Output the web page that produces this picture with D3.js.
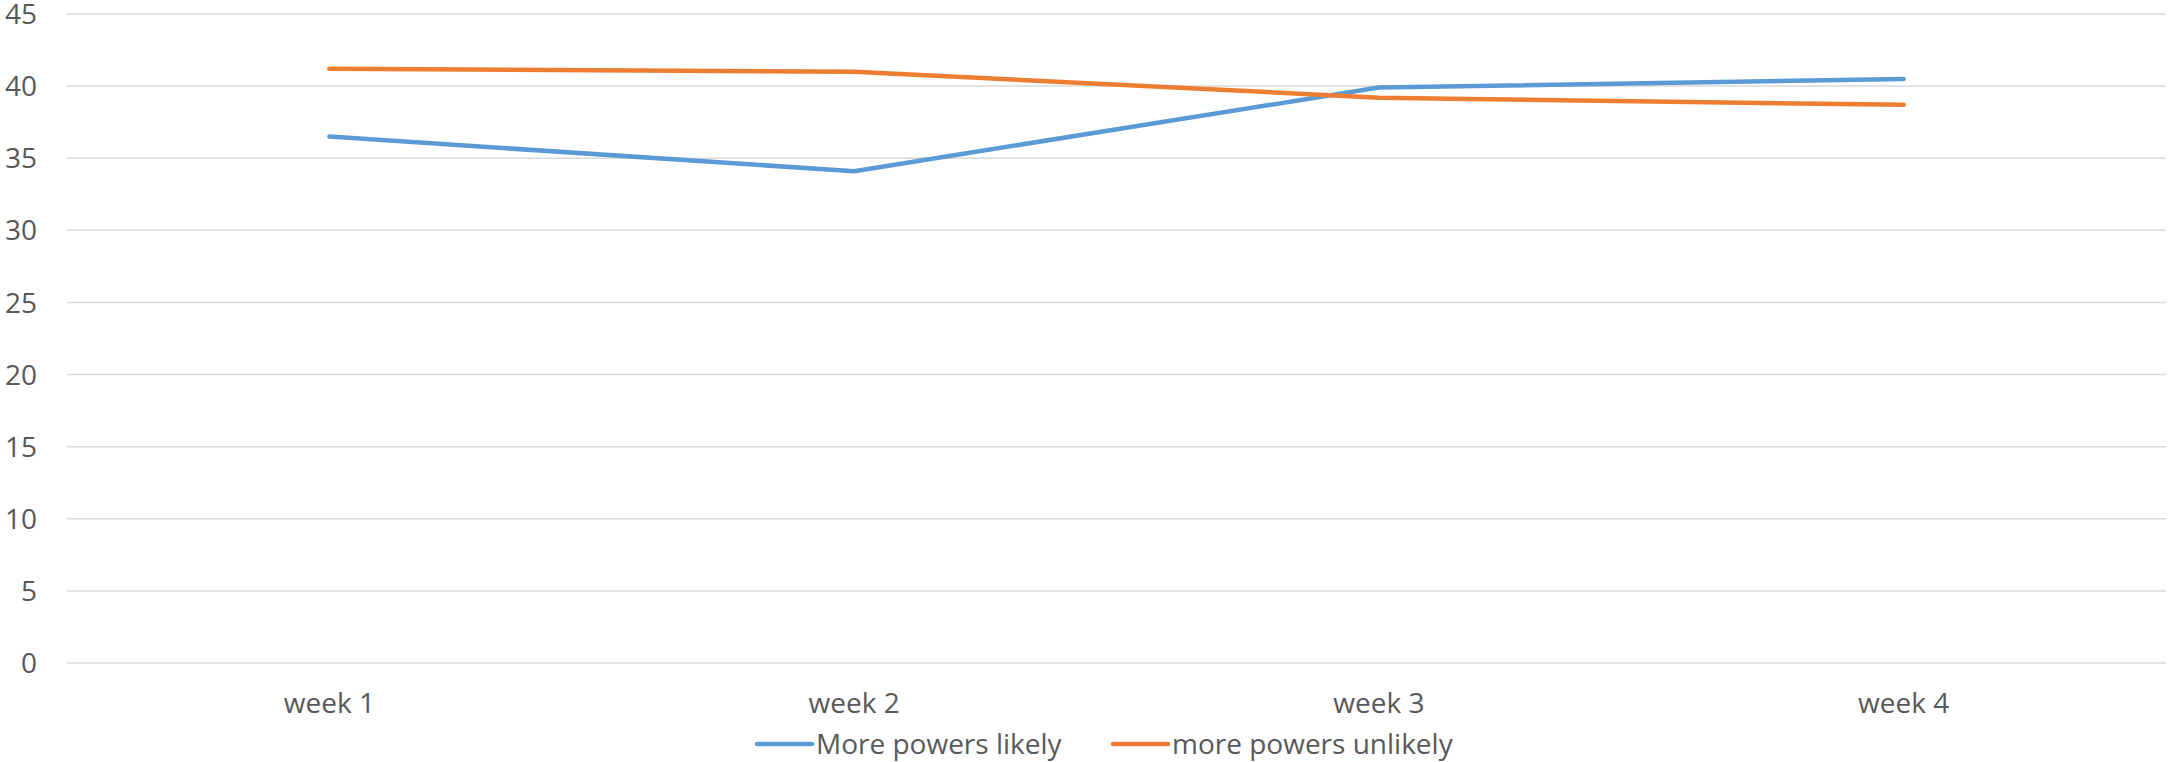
<!DOCTYPE html>
<html>
<head>
<meta charset="utf-8">
<script src="https://cdn.jsdelivr.net/npm/d3@7"></script>
<style>
  body { margin: 0; background: #fff; }
  text { font-family: "Open Sans", sans-serif; fill: #595959; }
</style>
</head>
<body>
<script>
// Chart data
const categories = ["week 1", "week 2", "week 3", "week 4"];
const likely = [36.5, 34.1, 39.9, 40.5];
const unlikely = [41.2, 41.0, 39.2, 38.7];
const yTicks = [0, 5, 10, 15, 20, 25, 30, 35, 40, 45];

const series = [
  { name: "More powers likely", values: likely, color: "#5b9bd5" },
  { name: "more powers unlikely", values: unlikely, color: "#ed7d31" }
];

const W = 2168, H = 762,
  margin = { top: 14, right: 2, bottom: 99, left: 67 };

const svg = d3.select("body").append("svg")
  .attr("width", W)
  .attr("height", H);

const x = d3.scaleBand()
  .domain(categories)
  .range([margin.left, W - margin.right]);

const y = d3.scaleLinear()
  .domain([0, 45])
  .range([H - margin.bottom, margin.top]);

// Gridlines
svg.append("g")
  .selectAll("line")
  .data(yTicks)
  .enter()
  .append("line")
  .attr("x1", margin.left)
  .attr("x2", W - margin.right)
  .attr("y1", d => y(d))
  .attr("y2", d => y(d))
  .style("stroke", "#d9d9d9")
  .style("stroke-width", 1.5);

// Y axis labels
svg.append("g")
  .selectAll("text")
  .data(yTicks)
  .enter()
  .append("text")
  .attr("x", 37)
  .attr("y", d => y(d))
  .attr("dy", "0.36em")
  .attr("text-anchor", "end")
  .style("font-size", "28px")
  .text(d => d);

// X axis labels
svg.append("g")
  .selectAll("text")
  .data(categories)
  .enter()
  .append("text")
  .attr("x", d => x(d) + x.bandwidth() / 2)
  .attr("y", 713)
  .attr("text-anchor", "middle")
  .style("font-size", "28px")
  .text(d => d);

// Lines
const line = d3.line()
  .x((d, i) => x(categories[i]) + x.bandwidth() / 2)
  .y(d => y(d));

svg.append("g")
  .selectAll("path")
  .data(series)
  .enter()
  .append("path")
  .attr("d", d => line(d.values))
  .style("fill", "none")
  .style("stroke", d => d.color)
  .style("stroke-width", 4.5)
  .style("stroke-linecap", "round")
  .style("stroke-linejoin", "round");

// Legend
const legendX = [757, 1113];
const legend = svg.append("g")
  .selectAll("g")
  .data(series)
  .enter()
  .append("g")
  .attr("transform", (d, i) => `translate(${legendX[i]}, 744)`);

legend.append("line")
  .attr("x1", 0)
  .attr("x2", 55)
  .style("stroke", d => d.color)
  .style("stroke-width", 4.5)
  .style("stroke-linecap", "round");

legend.append("text")
  .attr("x", 59)
  .attr("dy", "0.36em")
  .style("font-size", "28px")
  .text(d => d.name);
</script>
</body>
</html>
